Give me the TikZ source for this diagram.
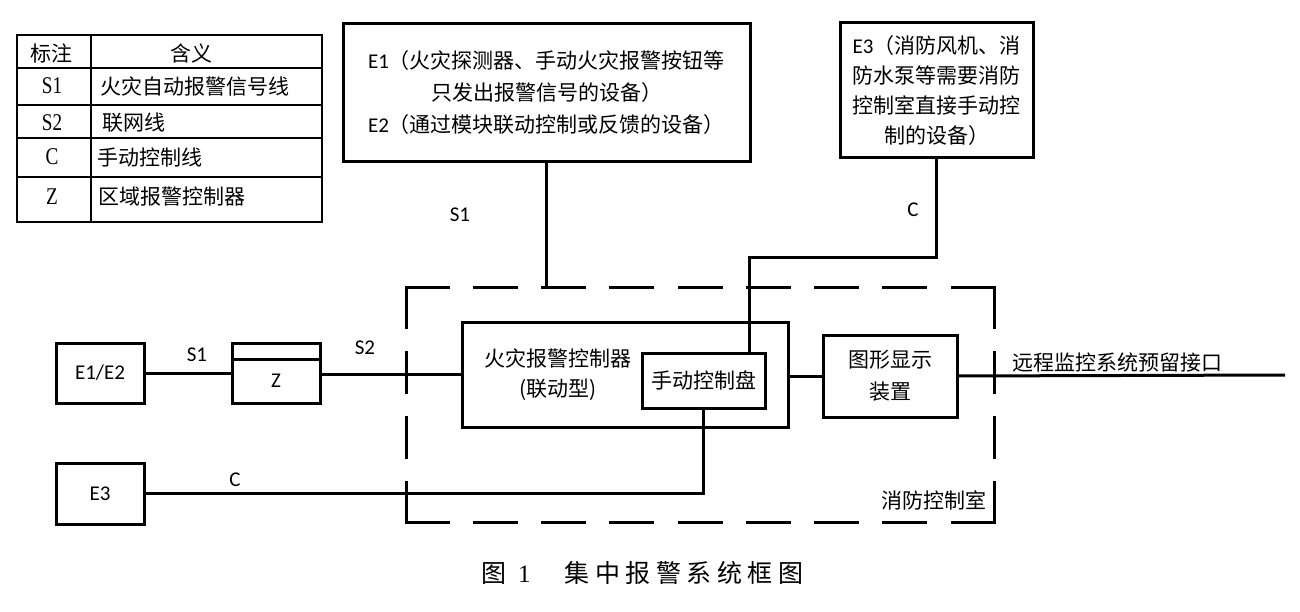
\documentclass[tikz,border=0pt]{standalone}
\usepackage{fontspec}
\setmainfont{Carlito}
\newfontfamily\cjkf{Noto Sans CJK SC}
\newfontfamily\calf{Carlito}
\newfontfamily\serf[FakeStretch=0.8]{Liberation Serif}
\newfontfamily\capnum{Liberation Serif}
\newcommand\capsp{\hspace{5.5pt}}
\begin{document}
\begin{tikzpicture}[x=1pt,y=-1pt,
  box/.style={draw, line width=3pt, rectangle, inner sep=0pt, outer sep=0pt},
  wire/.style={line width=3pt},
  cjk/.style={font=\cjkf\fontsize{21pt}{30pt}\selectfont, inner sep=0pt},
  lat/.style={font=\calf\fontsize{21pt}{25pt}\selectfont, inner sep=0pt},
  leg/.style={font=\cjkf\fontsize{21pt}{25pt}\selectfont, inner sep=0pt, anchor=west},
  legl/.style={font=\serf\fontsize{24pt}{28pt}\selectfont, inner sep=0pt},
  tab/.style={line width=2.5pt},
  roomedge/.style={line width=3pt, line cap=rect},
]
\useasboundingbox (0,0) rectangle (1300,612);

% legend table
\draw[tab] (17,35) rectangle (322,222);
\draw[tab] (91,35) -- (91,222);
\foreach \yy in {68,105,138,177} \draw[tab] (17,\yy) -- (322,\yy);
\node[leg, anchor=center] (h1) at (51,53) {标注};
\node[leg, anchor=center] (h2) at (191,53) {含义};
\node[legl] (k1) at (52,86) {S1};
\node[leg] (v1) at (100,86) {火灾自动报警信号线};
\node[legl] (k2) at (52,123) {S2};
\node[leg] (v2) at (102,123) {联网线};
\node[legl] (k3) at (52,157) {C};
\node[leg] (v3) at (97,157) {手动控制线};
\node[legl] (k4) at (52,197) {Z};
\node[leg] (v4) at (98,197) {区域报警控制器};

% top boxes
\node[box, align=center, font=\cjkf\fontsize{21pt}{32pt}\selectfont,
      minimum width=407, minimum height=138] (e1t) at (546.5,93)
  {{\calf E1}（火灾探测器、手动火灾报警按钮等\\只发出报警信号的设备）\\{\calf E2}（通过模块联动控制或反馈的设备）};
\node[box, align=center, font=\cjkf\fontsize{21pt}{29.7pt}\selectfont,
      minimum width=193, minimum height=135] (e3t) at (936.5,90.5)
  {{\calf E3}（消防风机、消\\防水泵等需要消防\\控制室直接手动控\\制的设备）};

% main boxes
\node[box, lat, minimum width=88, minimum height=60] (e1e2) at (100,373) {E1/E2};
\node[box, minimum width=88, minimum height=60] (z) at (276,373) {};
\draw[wire] ([yshift=-16pt]z.north west) -- ([yshift=-16pt]z.north east);
\node[lat] (zl) at (276,381) {Z};
\node[box, lat, minimum width=88, minimum height=61] (e3l) at (100,493.5) {E3};
\node[box, minimum width=326, minimum height=105] (ctrl) at (625,374.5) {};
\node[cjk, align=center] (ctrlt) at (558,375) {火灾报警控制器\\(联动型)};
\node[box, cjk, minimum width=123, minimum height=55] (panel) at (703.5,380.5) {手动控制盘};
\node[box, align=center, font=\cjkf\fontsize{21pt}{32pt}\selectfont,
      minimum width=134, minimum height=82] (disp) at (890,376) {图形显示\\装置};
\node[rectangle, inner sep=0pt, outer sep=0pt, minimum width=588, minimum height=235] (room) at (700,404.5) {};
\coordinate (remote) at (1285,375);
\coordinate (cbend) at (749,258);

% dashed control room
\draw[roomedge, dash pattern=on 42pt off 26.25pt] (room.north west) -- (room.north east);
\draw[roomedge, dash pattern=on 42pt off 26.25pt] (room.south west) -- (room.south east);
\draw[roomedge, dash pattern=on 40pt off 25pt] (room.north west) -- (room.south west);
\draw[roomedge, dash pattern=on 40pt off 25pt] (room.north east) -- (room.south east);

% connectors
\draw[wire] (e1t.south) -- (e1t.south |- room.north);
\draw[wire] (e3t.south) |- (cbend) -- (cbend |- panel.north);
\draw[wire] (e1e2.east) -- (z.west);
\draw[wire] (z.east |- ctrl.west) -- (ctrl.west);
\draw[wire] (ctrl.east |- disp.west) -- (disp.west);
\draw[wire] (disp.east) -- (remote);
\draw[wire] (e3l.east) -| (panel.south);

% labels
\node[lat] (s1a) at (460,215) {S1};
\node[lat] (ca) at (913,210) {C};
\node[lat] (s1b) at (197,355) {S1};
\node[lat] (s2) at (365,348) {S2};
\node[lat] (cb) at (235,480) {C};
\node[cjk] (remt) at (1117,362) {远程监控系统预留接口};
\node[cjk] (roomt) at (933.5,500) {消防控制室};

% caption
\node[font=\cjkf\fontsize{25pt}{30pt}\selectfont, anchor=west, inner sep=0pt] (cap) at (481,573)
  {图\hspace{12pt}{\capnum 1}\hspace{34pt}集\capsp 中\capsp 报\capsp 警\capsp 系\capsp 统\capsp 框\capsp 图};
\end{tikzpicture}
\end{document}
